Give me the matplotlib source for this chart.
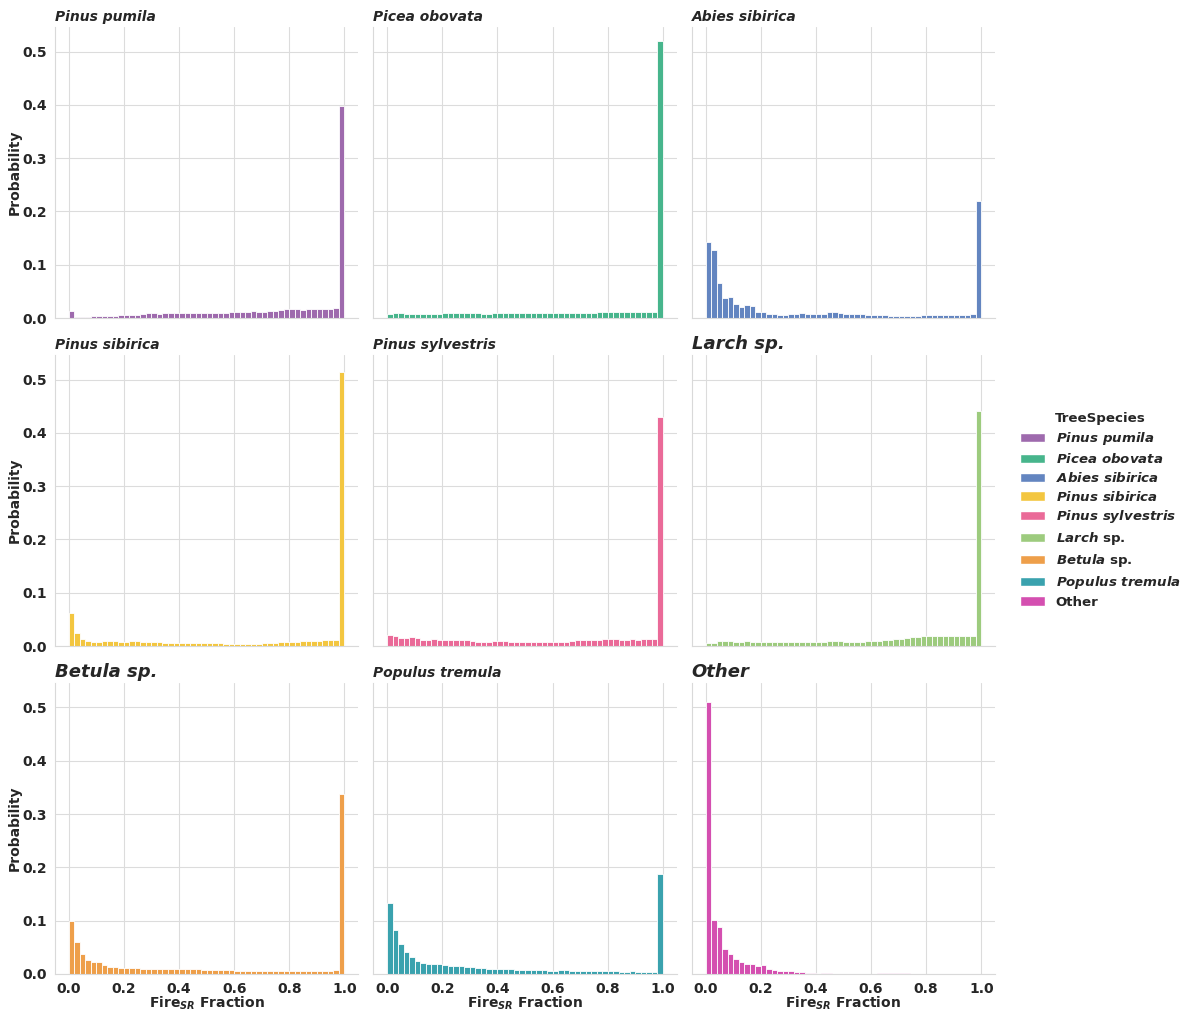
import numpy as np
import matplotlib
matplotlib.use("Agg")
import matplotlib.pyplot as plt
from matplotlib.patches import Patch
import seaborn as sns

sns.set_style("whitegrid")
plt.rcParams["font.family"] = ["DejaVu Sans"]
plt.rcParams["mathtext.fontset"] = "custom"
plt.rcParams["mathtext.rm"] = "DejaVu Sans:bold"
plt.rcParams["mathtext.it"] = "DejaVu Sans:italic:bold"
plt.rcParams["mathtext.bf"] = "DejaVu Sans:bold"

# 50 equal bins on [0, 1], probability per bin
bin_edges = np.linspace(0, 1, 51)

species = ["Pinus pumila", "Picea obovata", "Abies sibirica",
           "Pinus sibirica", "Pinus sylvestris", "Larch sp.",
           "Betula sp.", "Populus tremula", "Other"]

legend_labels = [r"$\mathit{Pinus\ pumila}$", r"$\mathit{Picea\ obovata}$",
                 r"$\mathit{Abies\ sibirica}$", r"$\mathit{Pinus\ sibirica}$",
                 r"$\mathit{Pinus\ sylvestris}$", r"$\mathit{Larch}$ sp.",
                 r"$\mathit{Betula}$ sp.", r"$\mathit{Populus\ tremula}$", "Other"]

colors = ["#9e6aad", "#47b58c", "#6385c0", "#f3c640", "#ea6a98",
          "#9dcb7e", "#ee9f4a", "#3aa2ae", "#d44fb0"]

pinus_pumila = [0.0125, 0.0015, 0.002, 0.0025, 0.003, 0.0035, 0.004, 0.004, 0.0045, 0.005,
                0.0055, 0.0055, 0.006, 0.007, 0.009, 0.0085, 0.008, 0.009, 0.0095, 0.009,
                0.009, 0.009, 0.009, 0.0095, 0.010, 0.0095, 0.009, 0.0095, 0.010, 0.0105,
                0.012, 0.0115, 0.0115, 0.013, 0.0115, 0.012, 0.013, 0.014, 0.015, 0.016,
                0.016, 0.016, 0.015, 0.016, 0.016, 0.016, 0.017, 0.0175, 0.018, 0.398]
picea_obovata = [0.008, 0.009, 0.0095, 0.008, 0.0075, 0.007, 0.0075, 0.007, 0.0075, 0.0075,
                 0.0085, 0.0085, 0.0085, 0.0085, 0.0085, 0.0085, 0.0085, 0.0075, 0.008, 0.0085,
                 0.0085, 0.0085, 0.0085, 0.0085, 0.0085, 0.0085, 0.0085, 0.0085, 0.0085, 0.0085,
                 0.0085, 0.0085, 0.0085, 0.009, 0.009, 0.0095, 0.0095, 0.010, 0.0105, 0.011,
                 0.011, 0.0115, 0.0115, 0.011, 0.0115, 0.011, 0.011, 0.011, 0.0115, 0.52]
abies_sibirica = [0.1435, 0.127, 0.066, 0.038, 0.040, 0.026, 0.021, 0.024, 0.023, 0.012,
                  0.011, 0.008, 0.007, 0.0055, 0.0055, 0.007, 0.007, 0.0095, 0.007, 0.007,
                  0.0075, 0.008, 0.0115, 0.0105, 0.0085, 0.0075, 0.0075, 0.007, 0.007, 0.0065,
                  0.0065, 0.006, 0.006, 0.004, 0.0045, 0.0045, 0.004, 0.004, 0.004, 0.005,
                  0.0055, 0.005, 0.005, 0.005, 0.005, 0.005, 0.0055, 0.0065, 0.007, 0.219]
pinus_sibirica = [0.061, 0.024, 0.014, 0.009, 0.0075, 0.008, 0.0085, 0.0095, 0.009, 0.008,
                  0.008, 0.0085, 0.0085, 0.0075, 0.0075, 0.0075, 0.0075, 0.0065, 0.0065, 0.0065,
                  0.0065, 0.0065, 0.0065, 0.0065, 0.0065, 0.006, 0.006, 0.0055, 0.004, 0.004,
                  0.004, 0.004, 0.004, 0.004, 0.0045, 0.005, 0.0055, 0.006, 0.007, 0.007,
                  0.0075, 0.008, 0.0085, 0.009, 0.0095, 0.0095, 0.0105, 0.012, 0.0105, 0.515]
pinus_sylvestris = [0.021, 0.0195, 0.015, 0.0155, 0.017, 0.015, 0.012, 0.012, 0.0125, 0.0105,
                    0.0105, 0.0105, 0.0105, 0.0105, 0.0105, 0.010, 0.008, 0.008, 0.008, 0.0095,
                    0.0095, 0.0095, 0.008, 0.008, 0.0075, 0.007, 0.007, 0.007, 0.007, 0.007,
                    0.007, 0.007, 0.0075, 0.0095, 0.0105, 0.011, 0.011, 0.011, 0.011, 0.0125,
                    0.0125, 0.0125, 0.012, 0.012, 0.0125, 0.011, 0.013, 0.0135, 0.0125, 0.43]
larch = [0.0065, 0.006, 0.0095, 0.009, 0.0085, 0.008, 0.008, 0.0085, 0.008, 0.0075,
         0.0075, 0.0075, 0.0075, 0.0075, 0.0075, 0.0075, 0.0075, 0.0075, 0.0075, 0.0075,
         0.0075, 0.0075, 0.0085, 0.0085, 0.0085, 0.0075, 0.0075, 0.008, 0.008, 0.0085,
         0.009, 0.0095, 0.0105, 0.012, 0.0135, 0.014, 0.015, 0.0165, 0.017, 0.018,
         0.0185, 0.0195, 0.0195, 0.0195, 0.0195, 0.0195, 0.0195, 0.0195, 0.018, 0.44]
betula = [0.100, 0.0595, 0.038, 0.026, 0.022, 0.022, 0.017, 0.014, 0.013, 0.012,
          0.0115, 0.011, 0.011, 0.010, 0.010, 0.0095, 0.0095, 0.009, 0.0095, 0.009,
          0.009, 0.009, 0.0085, 0.0085, 0.0075, 0.0075, 0.0075, 0.0075, 0.007, 0.007,
          0.0065, 0.0065, 0.0065, 0.006, 0.0065, 0.006, 0.005, 0.006, 0.005, 0.0055,
          0.0065, 0.0065, 0.0065, 0.006, 0.0065, 0.0065, 0.0065, 0.0065, 0.0075, 0.337]
populus_tremula = [0.134, 0.082, 0.056, 0.042, 0.0325, 0.025, 0.020, 0.019, 0.019, 0.0185,
                   0.017, 0.015, 0.015, 0.0145, 0.014, 0.0125, 0.012, 0.0105, 0.010, 0.0095,
                   0.0095, 0.009, 0.009, 0.008, 0.0075, 0.0075, 0.007, 0.007, 0.007, 0.0065,
                   0.0065, 0.007, 0.007, 0.0065, 0.006, 0.006, 0.006, 0.006, 0.005, 0.005,
                   0.005, 0.005, 0.0045, 0.0045, 0.005, 0.004, 0.004, 0.003, 0.004, 0.188]
other = [0.51, 0.102, 0.0875, 0.047, 0.038, 0.028, 0.023, 0.019, 0.019, 0.0155,
         0.0175, 0.0095, 0.0075, 0.006, 0.0055, 0.005, 0.0045, 0.003, 0.0015, 0.0015,
         0.0, 0.0012, 0.0012, 0.0, 0.0, 0.0, 0.0, 0.0, 0.0, 0.0,
         0.0, 0.0012, 0.0012, 0.0012, 0.0012, 0.0012, 0.0012, 0.0, 0.0, 0.0,
         0.0, 0.0, 0.0, 0.0, 0.0, 0.0, 0.0, 0.0, 0.0, 0.0]

probs = [pinus_pumila, picea_obovata, abies_sibirica, pinus_sibirica,
         pinus_sylvestris, larch, betula, populus_tremula, other]

# a few panel titles were set at a bigger size
big_titles = {"Larch sp.", "Betula sp.", "Other"}

fig, axes = plt.subplots(3, 3, figsize=(11.87, 10.11), dpi=100,
                         sharex=True, sharey=True)
fig.subplots_adjust(left=0.0463, right=0.8383, bottom=0.0366, top=0.9733,
                    wspace=0.05, hspace=0.127)

for i, (ax, name, p, c) in enumerate(zip(axes.flat, species, probs, colors)):
    ax.bar(bin_edges[:-1], p, width=np.diff(bin_edges), align="edge",
           color=c, edgecolor="white", linewidth=0.6)
    size = 13 if name in big_titles else 10
    ax.set_title(name, loc="left", fontsize=size, fontweight="bold",
                 fontstyle="italic", color="#262626", pad=4)
    for s in ("top", "right"):
        ax.spines[s].set_visible(False)
    for s in ("left", "bottom"):
        ax.spines[s].set_color("#d9d9d9")
    ax.grid(True, color="#dcdcdc", linewidth=0.8)
    ax.tick_params(length=0, labelsize=10, pad=6)
    if i % 3 == 0:
        ax.set_ylabel("Probability", fontsize=10, fontweight="bold", labelpad=0.5)
    if i >= 6:
        ax.set_xlabel(r"Fire$_{SR}$ Fraction", fontsize=10, fontweight="bold",
                      labelpad=-1)

axes[0, 0].set_xlim(-0.05, 1.05)
axes[0, 0].set_ylim(0, 0.546)
axes[0, 0].set_xticks(np.arange(0, 1.01, 0.2))
axes[0, 0].set_yticks(np.arange(0, 0.51, 0.1))
for ax in axes.flat:
    for lab in ax.get_xticklabels() + ax.get_yticklabels():
        lab.set_fontweight("bold")

handles = [Patch(facecolor=c, edgecolor="white") for c in colors]
leg = fig.legend(handles, legend_labels, title="TreeSpecies",
                 loc="center left", bbox_to_anchor=(0.849, 0.495),
                 frameon=False, prop={"weight": "bold", "size": 9.6},
                 handlelength=1.9, handleheight=0.7, handletextpad=0.8,
                 labelspacing=0.36)
leg.get_title().set_fontweight("bold")
leg.get_title().set_fontsize(9.6)
for t in leg.get_texts():
    t.set_color("#262626")

fig.savefig("out.png", dpi=100)
